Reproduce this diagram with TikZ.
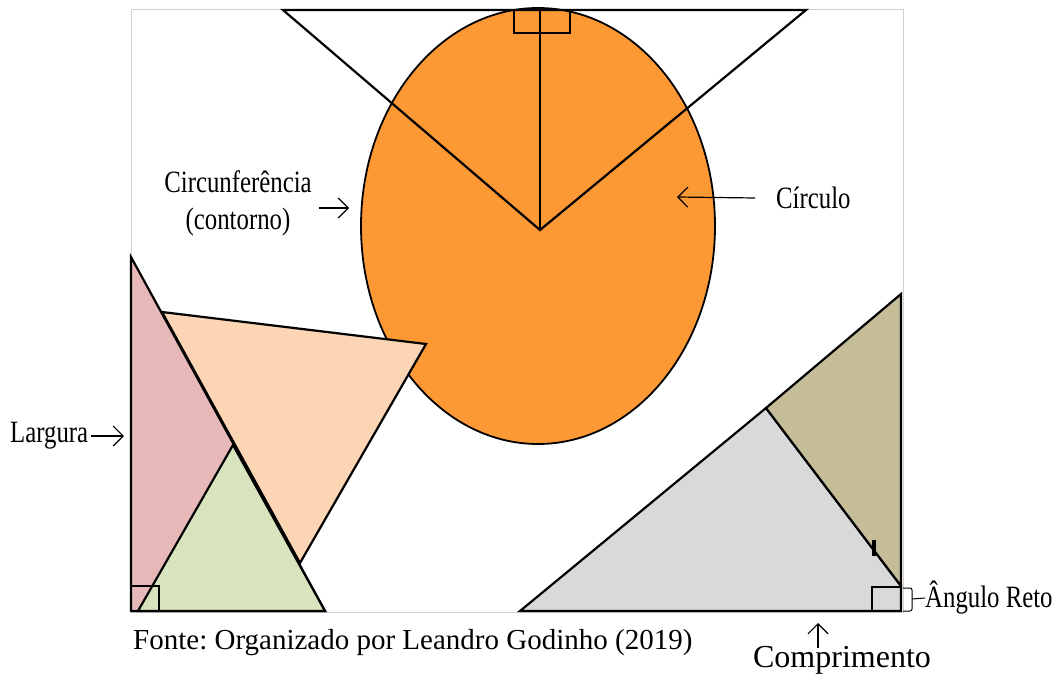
\documentclass[tikz,border=0pt]{standalone}
\usepackage{fontspec}
\setmainfont{Liberation Serif}
\newfontfamily\narrowfont[FakeStretch=0.8]{Liberation Serif}
\frenchspacing
\usetikzlibrary{positioning,arrows.meta}
\definecolor{laranja}{RGB}{253,153,52}
\definecolor{rosa}{RGB}{230,185,184}
\definecolor{pessego}{RGB}{252,213,181}
\definecolor{verde}{RGB}{215,228,189}
\definecolor{cinza}{RGB}{217,217,217}
\definecolor{caqui}{RGB}{196,189,151}
\tikzstyle{figura} = [draw=black, line width=2.2pt, line join=miter]
\tikzstyle{arrow} = [line width=1.2pt, -{Straight Barb[length=10pt,width=20pt,line width=1.2pt]}]
\tikzstyle{rotulo} = [inner sep=0pt, font=\narrowfont\fontsize{31}{37}\selectfont]

\begin{document}
\begin{tikzpicture}[x=1pt, y=-1pt,
    marca/.style={draw=black, line width=1.5pt},
    fonte/.style={inner sep=0pt, font=\fontsize{29}{34}\selectfont}
    ]
  \useasboundingbox (0,0) rectangle (1058,677);
  % moldura
  \draw [gray!35, line width=1pt] (131,10) rectangle (903,612);
  % circulo e triangulo invertido
  \draw [fill=laranja, line width=1.8pt] (538,226) ellipse [x radius=177pt, y radius=218pt];
  \draw [figura] (283,10) -- (806,10) -- (540,230) -- cycle;
  \draw [figura] (540,10) -- (540,230);
  \draw [marca] (514,10) rectangle (570,33);
  % triangulos da esquerda
  \draw [figura, fill=rosa] (131,257) -- (131,611) -- (325,611) -- cycle;
  \draw [figura, fill=verde] (233,445) -- (138,611) -- (325,611) -- cycle;
  \draw [figura, fill=pessego] (162,312) -- (426,344) -- (300,563) -- cycle;
  \draw [marca] (131,586) rectangle (159,611);
  % triangulos da direita
  \draw [figura, fill=cinza] (520,611) -- (766,408) -- (901,586) -- (901,611) -- cycle;
  \draw [figura, fill=caqui] (901,294) -- (766,408) -- (901,586) -- cycle;
  \draw [figura] (901,294) -- (901,611);
  \draw [line width=4pt] (874,540) -- (874,556);
  \draw [marca] (872,587) rectangle (901,611);
  % rotulos
  \node [rotulo, align=center] (Circunf) at (238,203) {Circunfer\^encia\\(contorno)};
  \coordinate (bordaCirc) at (349,208);
  \draw [arrow] ([xshift=7pt,yshift=-5pt]Circunf.east) -- (bordaCirc);
  \node [rotulo, anchor=west] (Circulo) at (776,198) {C\'irculo};
  \coordinate (dentroCirc) at (677,197);
  \draw [arrow] ([xshift=-21pt]Circulo.west) -- (dentroCirc);
  \node [rotulo, anchor=west] (Largura) at (10,436) {Largura};
  \coordinate (ladoRosa) at (124,436);
  \draw [arrow] ([xshift=3pt]Largura.east) -- (ladoRosa);
  \node [rotulo, anchor=west] (AngRet) at (925,598) {\^Angulo Reto};
  \draw [line width=1pt, rounded corners=2pt] (903,588) -- (912,588) -- (912,611) -- (903,611);
  \draw [line width=1pt] (912,599) -- (AngRet.west);
  \node [inner sep=0pt, font=\fontsize{32}{38}\selectfont] (Compr) at (842,660) {Comprimento};
  \coordinate (baseCinza) at (818,623);
  \draw [arrow, line width=1.6pt] ([xshift=-24pt,yshift=-2pt]Compr.north) -- (baseCinza);
  \node [fonte, anchor=west] (Fonte) at (133,643) {Fonte: Organizado por Leandro Godinho (2019)};
\end{tikzpicture}
\end{document}
